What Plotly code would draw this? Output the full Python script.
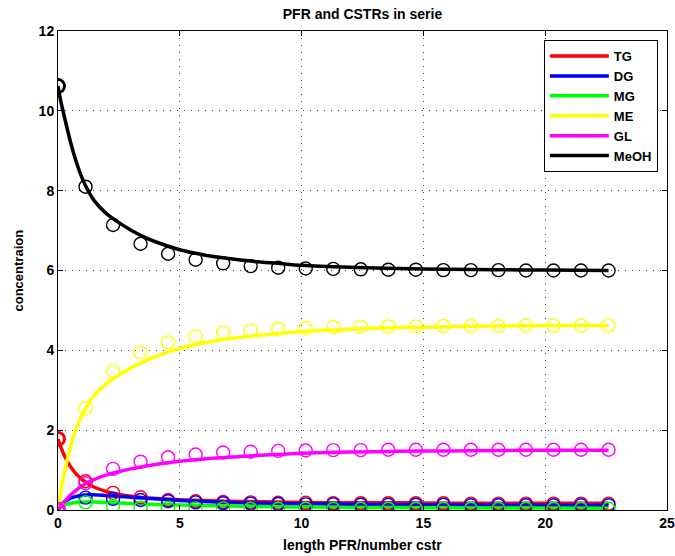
import plotly.graph_objects as go

# CSTR stage positions (markers)
x_cstr = [0, 1.13, 2.26, 3.39, 4.52, 5.65, 6.78, 7.91, 9.04, 10.17, 11.3,
          12.43, 13.56, 14.69, 15.82, 16.95, 18.08, 19.21, 20.34, 21.47, 22.6]
tg_cstr = [1.78, 0.72, 0.43, 0.32, 0.25, 0.22, 0.20, 0.19, 0.18, 0.18, 0.17,
           0.17, 0.17, 0.17, 0.17, 0.16, 0.16, 0.16, 0.16, 0.16, 0.16]
dg_cstr = [0, 0.31, 0.28, 0.25, 0.22, 0.19, 0.17, 0.16, 0.15, 0.14, 0.14,
           0.13, 0.13, 0.13, 0.13, 0.12, 0.12, 0.12, 0.12, 0.12, 0.12]
mg_cstr = [0, 0.19, 0.10, 0.06, 0.05, 0.04, 0.04, 0.03, 0.03, 0.03, 0.03,
           0.03, 0.03, 0.03, 0.03, 0.03, 0.03, 0.03, 0.03, 0.03, 0.03]
me_cstr = [0, 2.55, 3.48, 3.95, 4.20, 4.35, 4.45, 4.50, 4.54, 4.56, 4.58,
           4.59, 4.60, 4.60, 4.61, 4.61, 4.61, 4.62, 4.62, 4.62, 4.62]
gl_cstr = [0, 0.67, 1.03, 1.21, 1.32, 1.39, 1.44, 1.46, 1.48, 1.49, 1.50,
           1.50, 1.51, 1.51, 1.51, 1.51, 1.51, 1.51, 1.51, 1.51, 1.51]
meoh_cstr = [10.62, 8.10, 7.14, 6.67, 6.42, 6.27, 6.18, 6.11, 6.07, 6.05, 6.04,
             6.03, 6.02, 6.02, 6.01, 6.01, 6.01, 6.00, 6.00, 6.00, 6.00]

# PFR profile (lines)
x_pfr = [0, 0.1, 0.25, 0.5, 0.75, 1.0, 1.25, 1.5, 2.0, 2.5, 3.0, 3.5, 4.0,
         5.0, 6.0, 7.0, 8.0, 9.0, 10.0, 12.0, 14.0, 16.0, 18.0, 20.0, 22.6]
tg_pfr = [1.78, 1.60, 1.38, 1.10, 0.90, 0.76, 0.65, 0.57, 0.46, 0.39, 0.345, 0.31, 0.29,
          0.255, 0.235, 0.22, 0.21, 0.20, 0.19, 0.18, 0.18, 0.17, 0.17, 0.17, 0.17]
dg_pfr = [0, 0.10, 0.20, 0.29, 0.34, 0.37, 0.38, 0.38, 0.36, 0.34, 0.32, 0.30, 0.28,
          0.24, 0.21, 0.19, 0.175, 0.165, 0.155, 0.145, 0.135, 0.13, 0.125, 0.12, 0.12]
mg_pfr = [0, 0.06, 0.12, 0.17, 0.19, 0.20, 0.20, 0.20, 0.19, 0.175, 0.16, 0.15, 0.14,
          0.125, 0.11, 0.10, 0.09, 0.08, 0.075, 0.065, 0.06, 0.055, 0.05, 0.05, 0.045]
me_pfr = [0, 0.40, 0.90, 1.55, 2.05, 2.40, 2.67, 2.88, 3.17, 3.38, 3.56, 3.71, 3.84,
          4.05, 4.19, 4.29, 4.36, 4.42, 4.47, 4.53, 4.57, 4.59, 4.61, 4.62, 4.62]
gl_pfr = [0, 0.08, 0.20, 0.37, 0.50, 0.61, 0.70, 0.77, 0.88, 0.96, 1.03, 1.09, 1.14,
          1.22, 1.28, 1.32, 1.36, 1.39, 1.42, 1.45, 1.47, 1.48, 1.49, 1.50, 1.50]
meoh_pfr = [10.62, 10.28, 9.88, 9.25, 8.72, 8.30, 7.98, 7.74, 7.42, 7.20, 7.01, 6.85, 6.72,
            6.52, 6.39, 6.30, 6.23, 6.18, 6.13, 6.08, 6.05, 6.03, 6.02, 6.01, 6.00]

names = ["TG", "DG", "MG", "ME", "GL", "MeOH"]
colors = ["#ff0000", "#0000ff", "#00ff00", "#ffff00", "#ff00ff", "#000000"]
pfr = [tg_pfr, dg_pfr, mg_pfr, me_pfr, gl_pfr, meoh_pfr]
cstr = [tg_cstr, dg_cstr, mg_cstr, me_cstr, gl_cstr, meoh_cstr]

FONT = "Liberation Sans"

fig = go.Figure()
for n, c, y in zip(names, colors, pfr):
    fig.add_trace(go.Scatter(x=x_pfr, y=y, mode="lines", name=n,
                             line=dict(color=c, width=3.5, shape="spline", smoothing=0.8)))
for n, c, y in zip(names, colors, cstr):
    widths = [3] + [1.4] * (len(y) - 1)
    fig.add_trace(go.Scatter(x=x_cstr, y=y, mode="markers", name=n, showlegend=False,
                             marker=dict(symbol="circle-open", size=13, color=c,
                                         line=dict(color=c, width=widths))))

axis_common = dict(showline=True, linecolor="black", linewidth=1, mirror="ticks",
                   ticks="inside", ticklen=5, tickcolor="black", automargin=False,
                   showgrid=True, gridcolor="#444", griddash="1px,6px", gridwidth=1,
                   zeroline=False,
                   tickfont=dict(family=FONT, size=14, color="black", weight="bold"))

fig.update_layout(
    template="none",
    width=675, height=556,
    margin=dict(l=58, r=8, t=31, b=46, autoexpand=False),
    paper_bgcolor="white", plot_bgcolor="white",
    font=dict(family=FONT, size=14, color="black", weight="bold"),
    title=dict(text="PFR and CSTRs in serie", x=(58 + 667) / 2 / 675, xanchor="center",
               y=1 - 14 / 556, yanchor="middle",
               font=dict(family=FONT, size=14, color="black", weight="bold")),
    xaxis=dict(range=[0, 25], tickvals=[0, 5, 10, 15, 20, 25], **axis_common),
    yaxis=dict(range=[0, 12], tickvals=[0, 2, 4, 6, 8, 10, 12], **axis_common),
    legend=dict(x=0.985, y=0.981, xanchor="right", yanchor="top",
                bgcolor="white", bordercolor="black", borderwidth=1,
                font=dict(family=FONT, size=13, color="black", weight="bold"),
                tracegroupgap=0, itemwidth=59),
    showlegend=True,
    annotations=[
        dict(text="length PFR/number cstr", xref="paper", yref="paper",
             x=0.5, y=0, yshift=-35, xanchor="center", yanchor="middle", showarrow=False,
             font=dict(family=FONT, size=14, color="black", weight="bold")),
        dict(text="concentraion", xref="paper", yref="paper", textangle=-90,
             x=0, y=0.5, xshift=-40, xanchor="center", yanchor="middle", showarrow=False,
             font=dict(family=FONT, size=13, color="black", weight="bold")),
    ],
)

fig.write_html("out.html", config={"displayModeBar": False},
               post_script="document.body.style.margin='0';")
